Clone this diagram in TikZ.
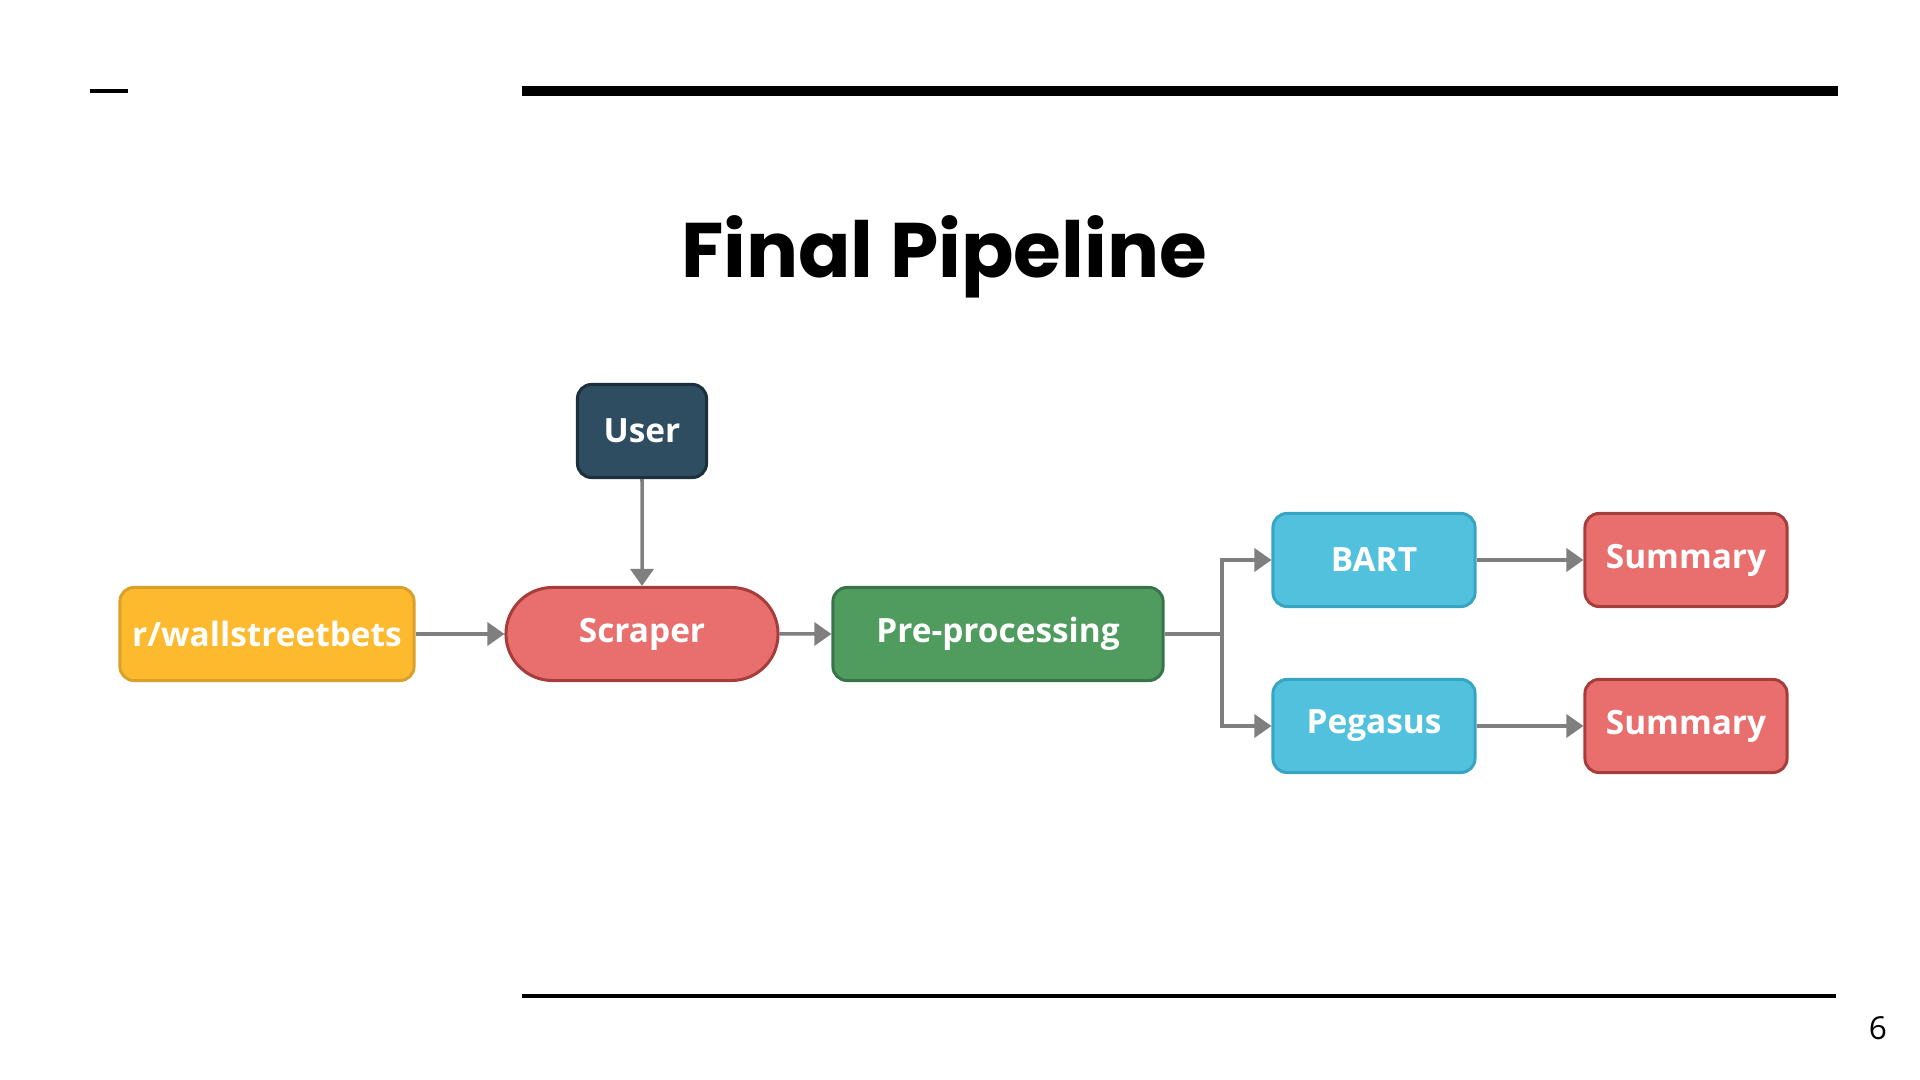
\documentclass[tikz,border=0pt]{standalone}
\usepackage{fontspec}
\setmainfont{Open Sans}
\newfontfamily\titlefont{Poppins}
\usetikzlibrary{arrows.meta,shapes.misc}

\definecolor{wsbfill}{HTML}{FDBA2E}
\definecolor{wsbline}{HTML}{DBA02A}
\definecolor{redfill}{HTML}{E86F6D}
\definecolor{redline}{HTML}{A63C3B}
\definecolor{greenfill}{HTML}{4F9C5E}
\definecolor{greenline}{HTML}{37744A}
\definecolor{navyfill}{HTML}{2E4D61}
\definecolor{navyline}{HTML}{1C2F3D}
\definecolor{cyanfill}{HTML}{52C1DE}
\definecolor{cyanline}{HTML}{38A4C4}
\definecolor{arrowgray}{HTML}{7F7F7F}

\tikzset{
  box/.style={draw,line width=0.85pt,rounded corners=0.14cm,text=white,
    font=\fontsize{9.5}{11}\selectfont\bfseries,minimum height=0.93cm,inner sep=0pt},
  arrow/.style={draw=arrowgray,line width=1pt,-{Triangle[length=0.17cm,width=0.23cm]}},
}

\begin{document}
\begin{tikzpicture}[x=0.01cm,y=-0.01cm]
\useasboundingbox (0,0) rectangle (1920,1080);
% header and footer rules
\coordinate (d1) at (90,91);
\coordinate (d2) at (128,91);
\coordinate (t1) at (522,91);
\coordinate (t2) at (1838,91);
\coordinate (b1) at (522,996);
\coordinate (b2) at (1836,996);
\draw[line width=1.4pt] (d1) -- (d2);
\draw[line width=2.85pt] (t1) -- (t2);
\draw[line width=1.1pt] (b1) -- (b2);
\node[font=\titlefont\bfseries\fontsize{22}{27}\selectfont,anchor=base] (title) at (944,278) {Final Pipeline};
\node[font=\fontsize{9}{10}\selectfont] (page) at (1878,1028) {6};
% pipeline
\node[box,fill=wsbfill,draw=wsbline,minimum width=2.94cm] (wsb) at (267,634) {r/wallstreetbets};
\node[box,rounded rectangle,rounded corners=0pt,fill=redfill,draw=redline,minimum width=2.72cm] (scr) at (642,634) {Scraper};
\node[box,fill=navyfill,draw=navyline,minimum width=1.29cm] (user) at (642,431) {User};
\node[box,fill=greenfill,draw=greenline,minimum width=3.30cm] (pre) at (998,634) {Pre-processing};
\node[box,fill=cyanfill,draw=cyanline,minimum width=2.02cm] (bart) at (1374,560) {BART};
\node[box,fill=cyanfill,draw=cyanline,minimum width=2.02cm] (peg) at (1374,726) {Pegasus};
\node[box,fill=redfill,draw=redline,minimum width=2.02cm] (sum1) at (1686,560) {Summary};
\node[box,fill=redfill,draw=redline,minimum width=2.02cm] (sum2) at (1686,726) {Summary};
\coordinate (split) at (1222,634);
\draw[arrow] (wsb) -- (scr);
\draw[arrow] (user) -- (scr);
\draw[arrow] (scr) -- (pre);
\draw[draw=arrowgray,line width=1pt] (pre) -- (split);
\draw[arrow] (split) |- (bart);
\draw[arrow] (split) |- (peg);
\draw[arrow] (bart) -- (sum1);
\draw[arrow] (peg) -- (sum2);
\end{tikzpicture}
\end{document}
